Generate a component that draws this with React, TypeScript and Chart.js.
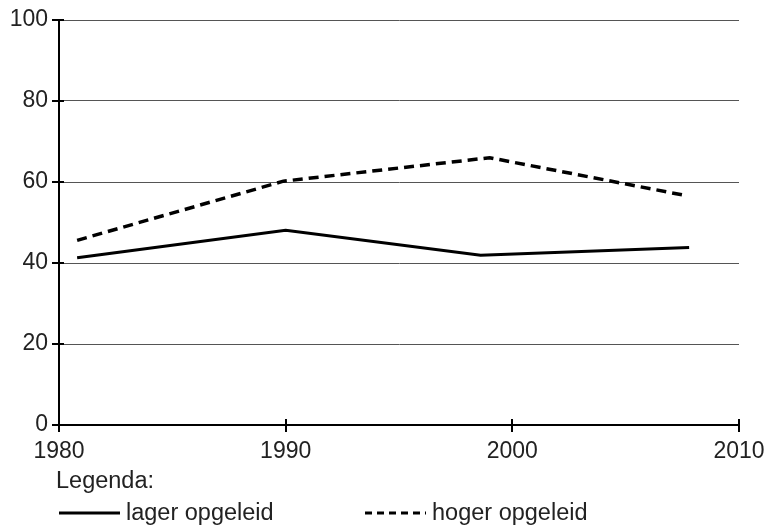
import React, { useEffect, useRef } from "react";
import { Chart, registerables } from "chart.js";

Chart.register(...registerables);

const lowerYears = [1980.8, 1990.0, 1998.6, 2007.8];
const lowerValues = [41.3, 48.1, 41.9, 43.8];
const higherYears = [1980.8, 1989.9, 1999.0, 2007.7];
const higherValues = [45.6, 60.2, 66.0, 56.6];
const seriesLabels = ["lager opgeleid", "hoger opgeleid"];
const legendTitle = "Legenda:";
const xTicks = [1980, 1990, 2000, 2010];
const yTicks = [0, 20, 40, 60, 80, 100];

const FONT = "'Liberation Sans', Arial, sans-serif";
const TEXT = "#222";

const overlay = {
  id: "overlay",
  afterDraw(chart: any) {
    const ctx = chart.ctx;
    const { left, bottom } = chart.chartArea;
    const xs = chart.scales.x;
    const ys = chart.scales.y;
    ctx.save();
    ctx.strokeStyle = "#000";
    ctx.lineWidth = 2;
    xTicks.forEach((v) => {
      const px = Math.round(xs.getPixelForValue(v));
      ctx.beginPath();
      ctx.moveTo(px, bottom - 6);
      ctx.lineTo(px, bottom + 7);
      ctx.stroke();
    });
    yTicks.forEach((v) => {
      const py = Math.round(ys.getPixelForValue(v));
      ctx.beginPath();
      ctx.moveTo(left - 7, py);
      ctx.lineTo(left + 5, py);
      ctx.stroke();
    });
    // legend
    ctx.fillStyle = TEXT;
    ctx.font = `23.5px ${FONT}`;
    ctx.textBaseline = "middle";
    ctx.textAlign = "left";
    ctx.fillText(legendTitle, 56, 482);
    const items = [
      { x: 59, dash: [] as number[] },
      { x: 365, dash: [7, 5] },
    ];
    chart.data.datasets.forEach((ds: any, i: number) => {
      const it = items[i];
      ctx.strokeStyle = "#000";
      ctx.lineWidth = 3;
      ctx.setLineDash(it.dash);
      ctx.beginPath();
      ctx.moveTo(it.x, 513);
      ctx.lineTo(it.x + 61, 513);
      ctx.stroke();
      ctx.setLineDash([]);
      ctx.fillText(ds.label, it.x + 67, 514);
    });
    ctx.restore();
  },
};

export default function App() {
  const ref = useRef<HTMLCanvasElement>(null);
  useEffect(() => {
    if (!ref.current) return;
    const chart = new Chart(ref.current, {
      type: "line",
      data: {
        datasets: [
          {
            label: seriesLabels[0],
            data: lowerYears.map((x, i) => ({ x, y: lowerValues[i] })),
            borderColor: "#000",
            borderWidth: 3,
            pointRadius: 0,
            tension: 0,
            fill: false,
          },
          {
            label: seriesLabels[1],
            data: higherYears.map((x, i) => ({ x, y: higherValues[i] })),
            borderColor: "#000",
            borderWidth: 3.5,
            borderDash: [10, 6],
            pointRadius: 0,
            tension: 0,
            fill: false,
          },
        ],
      },
      options: {
        animation: false,
        responsive: false,
        maintainAspectRatio: false,
        layout: { padding: { top: 20, right: 31, left: 0, bottom: 0 } },
        plugins: { legend: { display: false }, tooltip: { enabled: false } },
        scales: {
          x: {
            type: "linear",
            min: 1980,
            max: 2010,
            afterBuildTicks: (s: any) => {
              s.ticks = xTicks.map((v) => ({ value: v }));
            },
            afterFit: (s: any) => {
              s.height = 104;
              s.paddingLeft = 0;
              s.paddingRight = 0;
            },
            ticks: {
              color: TEXT,
              font: { family: FONT, size: 23 },
              padding: 13,
              maxRotation: 0,
              callback: (v: any) => String(v),
            },
            grid: { display: false, drawTicks: false },
            border: { display: true, color: "#000", width: 2 },
          },
          y: {
            min: 0,
            max: 100,
            afterBuildTicks: (s: any) => {
              s.ticks = yTicks.map((v) => ({ value: v }));
            },
            afterFit: (s: any) => {
              s.width = 59;
              s.paddingTop = 0;
              s.paddingBottom = 0;
            },
            ticks: {
              color: TEXT,
              font: { family: FONT, size: 23 },
              padding: 11,
              callback: (v: any) => String(v),
            },
            grid: {
              drawTicks: false,
              color: (c: any) => (c.tick && c.tick.value === 0 ? "rgba(0,0,0,0)" : "#555"),
              lineWidth: 1,
            },
            border: { display: true, color: "#000", width: 2 },
          },
        },
      },
      plugins: [overlay],
    });
    return () => chart.destroy();
  }, []);
  return (
    <div style={{ position: "fixed", left: 0, top: 0, width: 770, height: 529, background: "#fff" }}>
      <canvas ref={ref} width={770} height={529} style={{ display: "block" }} />
    </div>
  );
}
